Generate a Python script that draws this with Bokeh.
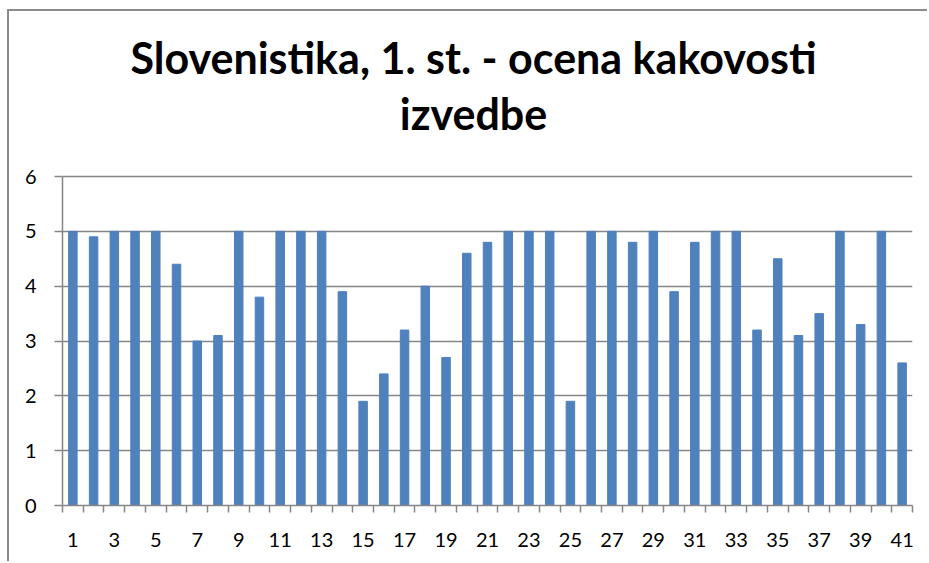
from bokeh.plotting import figure
from bokeh.models import FixedTicker, Label, ColumnDataSource, Range1d
from bokeh.embed import file_html
from bokeh.resources import INLINE

# data
questions = list(range(1, 42))
scores = [5, 4.9, 5, 5, 5, 4.4, 3.0, 3.1, 5, 3.8,
          5, 5, 5, 3.9, 1.9, 2.4, 3.2, 4.0, 2.7, 4.6,
          4.8, 5, 5, 5, 1.9, 5, 5, 4.8, 5, 3.9,
          4.8, 5, 5, 3.2, 4.5, 3.1, 3.5, 5, 3.3, 5,
          2.6]
x_tick_labels = [str(i) for i in range(1, 42, 2)]
y_ticks = [0, 1, 2, 3, 4, 5, 6]
title_line1 = "Slovenistika, 1. st. - ocena kakovosti"
title_line2 = "izvedbe"

# layout (pixels)
W, H = 920, 552
LEFT, RIGHT, BOTTOM = 53, 17, 58
PLOT_H = 329            # height of the 0..6 value area
frame_h = H - BOTTOM
px_per_unit = PLOT_H / 6.0
y_end = frame_h / px_per_unit
x_px = (W - LEFT - RIGHT) / len(questions)

def y_at(canvas_y):
    return (frame_h - canvas_y) / px_per_unit

def x_at(canvas_x):
    return 0.5 + (canvas_x - LEFT) / x_px

src = ColumnDataSource(dict(x=questions, top=scores))

p = figure(width=W, height=H, output_backend="svg", toolbar_location=None,
           x_range=Range1d(0.5, len(questions) + 0.5), y_range=Range1d(0, y_end),
           min_border_left=LEFT, min_border_right=RIGHT, min_border_top=0,
           min_border_bottom=BOTTOM)
p.styles = {"border-left": "2px solid #8C8C8C", "border-top": "2px solid #8C8C8C",
            "margin-left": "7px", "margin-top": "9px"}

p.vbar(x="x", top="top", width=0.41, source=src, color="#4F81BD")

FONT = "Lato"
for txt, cy in ((title_line1, 45.5), (title_line2, 101.5)):
    p.add_layout(Label(x=x_at(464), y=y_at(cy), text=txt,
                       text_align="center", text_baseline="alphabetic",
                       text_font=FONT, text_font_size="43px", text_font_style="bold",
                       text_color="black"))

p.outline_line_color = None
p.xgrid.grid_line_color = None
p.ygrid.grid_line_color = "#868686"
p.ygrid.grid_line_width = 1.5
p.ygrid.ticker = FixedTicker(ticks=y_ticks)

# x axis: labels at odd positions, tick marks between categories
odd = [int(s) for s in x_tick_labels]
bounds = [i + 0.5 for i in range(0, len(questions) + 1)]
xa = p.xaxis[0]
xa.ticker = FixedTicker(ticks=odd, minor_ticks=bounds)
xa.major_tick_line_color = None
xa.minor_tick_out = 7
xa.minor_tick_in = 0
xa.minor_tick_line_color = "#868686"
xa.minor_tick_line_width = 1.5
xa.axis_line_color = "#868686"
xa.axis_line_width = 1.5
xa.major_label_text_font = FONT
xa.major_label_text_font_size = "20px"
xa.major_label_text_color = "black"
xa.major_label_standoff = 20

ya = p.yaxis[0]
ya.ticker = FixedTicker(ticks=y_ticks)
ya.bounds = (0, 6)
ya.minor_tick_line_color = None
ya.major_tick_out = 8
ya.major_tick_in = 0
ya.major_tick_line_color = "#868686"
ya.major_tick_line_width = 1.5
ya.axis_line_color = "#868686"
ya.axis_line_width = 1.5
ya.major_label_text_font = FONT
ya.major_label_text_font_size = "20px"
ya.major_label_text_color = "black"
ya.major_label_standoff = 18

open("out.html", "w").write(file_html(p, INLINE))
